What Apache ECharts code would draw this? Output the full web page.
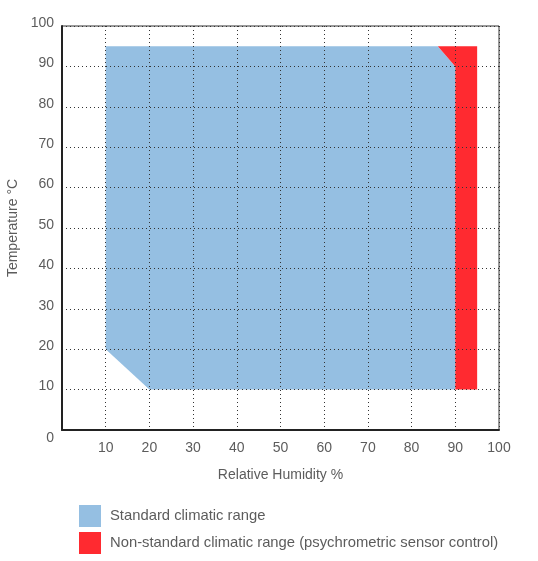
<!DOCTYPE html>
<html>
<head>
<meta charset="utf-8">
<script src="https://cdn.jsdelivr.net/npm/echarts@6/dist/echarts.min.js"></script>
<style>
html,body{margin:0;padding:0;background:#fff;}
#chart{width:538px;height:561px;}
</style>
</head>
<body>
<div id="chart"></div>
<script>
// Polygon vertices: relative humidity (%) and temperature (°C)
var standardHumidity = [10, 86, 90, 90, 20, 10];
var standardTemperature = [95, 95, 90, 10, 10, 20];
var nonStandardHumidity = [86, 95, 95, 90, 90];
var nonStandardTemperature = [95, 95, 10, 10, 90];
var xTicks = [0, 10, 20, 30, 40, 50, 60, 70, 80, 90, 100];
var yTicks = [0, 10, 20, 30, 40, 50, 60, 70, 80, 90, 100];
var seriesNames = ['Standard climatic range', 'Non-standard climatic range (psychrometric sensor control)'];

function toPoints(xs, ys) {
  return xs.map(function (x, i) { return [x, ys[i]]; });
}

function polygonSeries(name, color, pts) {
  return {
    type: 'custom',
    name: name,
    color: color,
    z: 1,
    coordinateSystem: 'cartesian2d',
    data: [0],
    encode: { x: [], y: [] },
    renderItem: function (params, api) {
      var coords = pts.map(function (p) { return api.coord(p); });
      return {
        type: 'polygon',
        shape: { points: coords },
        style: { fill: color, stroke: null }
      };
    }
  };
}

var chart = echarts.init(document.getElementById('chart'));
var labelColor = '#5c5c5c';
var font = 'Liberation Sans, Arial, sans-serif';
chart.setOption({
  animation: false,
  grid: {
    left: 62, right: 39, top: 26, bottom: 131,
    containLabel: false, outerBoundsMode: 'none',
    show: true, borderColor: '#333', borderWidth: 1, backgroundColor: 'transparent'
  },
  legend: {
    orient: 'vertical',
    left: 79, top: 505, padding: 0,
    itemWidth: 22, itemHeight: 22, itemGap: 5,
    icon: 'rect',
    textStyle: { fontSize: 14.8, color: labelColor, fontFamily: font, padding: [0, 0, 0, 4] },
    data: seriesNames
  },
  xAxis: {
    type: 'value', min: xTicks[0], max: xTicks[xTicks.length - 1], interval: 10,
    z: 5,
    name: 'Relative Humidity %', nameLocation: 'middle', nameGap: 38,
    nameTextStyle: { fontSize: 14, color: labelColor, fontFamily: font },
    axisLine: { show: true, lineStyle: { color: '#222', width: 2 } },
    axisTick: { show: false },
    axisLabel: {
      margin: 11, fontSize: 14, color: labelColor, fontFamily: font,
      formatter: function (v) { return v === 0 ? '' : String(v); }
    },
    splitLine: { show: true, lineStyle: { color: '#333', width: 1, type: [1, 3] } }
  },
  yAxis: {
    type: 'value', min: yTicks[0], max: yTicks[yTicks.length - 1], interval: 10,
    z: 5,
    name: 'Temperature °C', nameLocation: 'middle', nameGap: 41,
    nameTextStyle: { fontSize: 14, color: labelColor, fontFamily: font },
    axisLine: { show: true, lineStyle: { color: '#222', width: 2 } },
    axisTick: { show: false },
    axisLabel: {
      margin: 8, fontSize: 14, color: labelColor, fontFamily: font,
      formatter: function (v) { return v === 0 ? '{z|0}' : '{a|' + v + '}'; },
      rich: {
        a: { fontSize: 14, color: labelColor, fontFamily: font, padding: [0, 0, 6, 0] },
        z: { fontSize: 14, color: labelColor, fontFamily: font, padding: [16, 0, 0, 0] }
      }
    },
    splitLine: { show: true, lineStyle: { color: '#333', width: 1, type: [1, 3] } }
  },
  series: [
    polygonSeries(seriesNames[0], '#95bfe2', toPoints(standardHumidity, standardTemperature)),
    polygonSeries(seriesNames[1], '#ff2a30', toPoints(nonStandardHumidity, nonStandardTemperature))
  ]
});
</script>
</body>
</html>
